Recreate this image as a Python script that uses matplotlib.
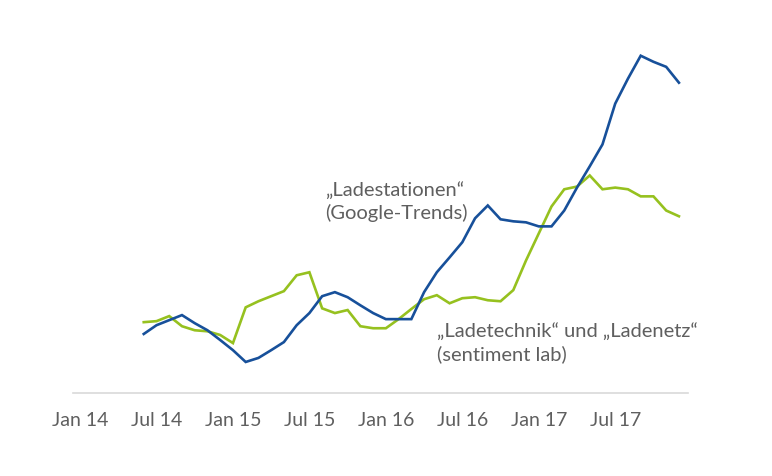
import matplotlib
matplotlib.use('Agg')
import matplotlib.pyplot as plt
import numpy as np

# months since Jan 2014, Jun 14 .. Dec 17
months = np.arange(5, 48)

google_trends = [17.5, 20.1, 21.6, 23.1, 20.7, 18.6, 15.7, 12.7, 9.2, 10.4,
                 12.7, 15.1, 20.1, 23.7, 28.7, 29.9, 28.4, 26.0, 23.7, 21.9,
                 21.9, 21.9, 29.9, 35.8, 40.2, 44.7, 51.8, 55.6, 51.5, 50.9,
                 50.6, 49.4, 49.4, 54.1, 60.9, 67.2, 73.7, 85.8, 93.2, 100.0,
                 98.2, 96.7, 92.0]

sentiment_lab = [21.0, 21.3, 22.8, 19.8, 18.6, 18.3, 17.2, 14.8, 25.4, 27.2,
                 28.7, 30.2, 34.9, 35.8, 25.1, 23.7, 24.6, 19.8, 19.2, 19.2,
                 21.9, 24.9, 27.8, 29.0, 26.6, 28.1, 28.4, 27.5, 27.2, 30.5,
                 39.3, 47.3, 55.3, 60.4, 61.2, 64.5, 60.4, 60.9, 60.4, 58.3,
                 58.3, 54.1, 52.4]

tick_pos = [0, 6, 12, 18, 24, 30, 36, 42]
tick_labels = ['Jan 14', 'Jul 14', 'Jan 15', 'Jul 15',
               'Jan 16', 'Jul 16', 'Jan 17', 'Jul 17']

blue = '#17509a'
green = '#96c11f'
grey = '#5f5f5f'

plt.rcParams['font.family'] = ['Lato', 'DejaVu Sans']

fig = plt.figure(figsize=(7.72, 4.77), dpi=100)
ax = fig.add_axes([0.0946, 0.174, 0.7964, 0.746])

ax.plot(months, sentiment_lab, color=green, lw=1.9, solid_joinstyle='miter')
ax.plot(months, google_trends, color=blue, lw=1.9, solid_joinstyle='miter')

ax.set_xlim(-0.55, 47.7)
ax.set_ylim(0, 105.5)

for s in ['top', 'right', 'left']:
    ax.spines[s].set_visible(False)
ax.spines['bottom'].set_color('#d9d9d9')
ax.spines['bottom'].set_linewidth(1.2)
ax.set_yticks([])
ax.set_xticks(tick_pos)
ax.set_xticklabels(tick_labels)
ax.tick_params(axis='x', length=0, pad=13, labelsize=14, labelcolor=grey)

ax.text(19.2, 63.0, '\u201eLadestationen\u201c\n(Google-Trends)', color=grey,
        fontsize=14.5, va='top', ha='left', linespacing=1.3)
ax.text(28.0, 21.2, '\u201eLadetechnik\u201c und \u201eLadenetz\u201c\n(sentiment lab)',
        color=grey, fontsize=14.5, va='top', ha='left', linespacing=1.3)

plt.savefig('out.png', dpi=100)
